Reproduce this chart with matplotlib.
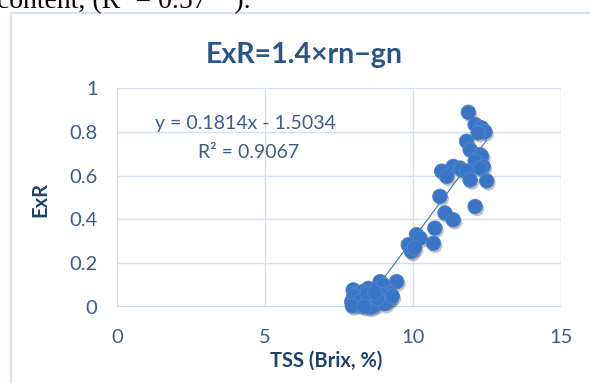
import numpy as np
import matplotlib.pyplot as plt
import matplotlib.patheffects as pe
from matplotlib.patches import Rectangle

plt.rcParams['font.family'] = ['Lato', 'DejaVu Sans']

# TSS (Brix, %) vs ExR
tss = [11.87, 12.10, 12.32, 12.43, 12.20, 11.81, 11.93, 12.26, 12.32, 12.10,
       12.37, 12.26, 11.36, 11.59, 11.64, 11.81, 10.97, 11.14, 11.93, 12.49,
       10.91, 12.10, 11.08, 11.36, 10.74, 10.12, 10.24, 10.69, 9.84, 9.95,
       10.05,
       9.45, 8.89, 7.98, 8.49, 8.77, 8.10, 8.32, 8.55, 8.89, 9.22,
       7.93, 8.20, 8.49, 8.72, 9.11, 8.15, 9.00, 9.22, 9.16, 8.05,
       8.40, 8.62, 8.95, 8.30, 8.00, 8.60, 9.05, 8.80, 8.25, 8.45,
       8.70, 9.30, 7.95, 8.35]
exr = [0.889, 0.833, 0.818, 0.800, 0.795, 0.757, 0.718, 0.696, 0.688, 0.665,
       0.642, 0.634, 0.642, 0.634, 0.627, 0.620, 0.620, 0.596, 0.580, 0.576,
       0.505, 0.459, 0.429, 0.398, 0.360, 0.330, 0.314, 0.291, 0.284, 0.253,
       0.270,
       0.116, 0.116, 0.078, 0.085, 0.078, 0.040, 0.047, 0.024, 0.032, 0.040,
       0.024, 0.009, 0.000, 0.009, 0.063, 0.063, 0.100, 0.063, 0.032, 0.010,
       0.020, 0.050, 0.055, 0.070, 0.050, 0.000, 0.015, 0.040, 0.030, 0.060,
       0.065, 0.050, 0.005, 0.002]

# linear trendline shown on the chart
slope, intercept = 0.1814, -1.5034

blue = '#3B74C2'
tick_col = '#3E5C85'
lab_col = '#1F426E'

W, H = 590, 383
fig = plt.figure(figsize=(W / 100, H / 100), dpi=100)

# cropped line of body text above the chart
fig.text(-0.005, 1 - 8 / H, 'content, (R² = 0.57**).', fontsize=20,
         family='Liberation Serif', color='black', va='baseline', ha='left')

# chart frame
fig.patches.append(Rectangle((11 / W, -0.1), 1.2, 1 - 13 / H + 0.1,
                             transform=fig.transFigure, fill=False,
                             edgecolor='#D6E2F1', linewidth=1.5))

ax = fig.add_axes([117 / W, 1 - 307 / H, 444 / W, 219 / H])

ax.set_xlim(0, 15)
ax.set_ylim(0, 1)
ax.set_xticks([0, 5, 10, 15])
ax.set_yticks([0, 0.2, 0.4, 0.6, 0.8, 1])
ax.set_yticklabels(['0', '0.2', '0.4', '0.6', '0.8', '1'])
ax.grid(True, color='#D4E0F0', linewidth=1)
ax.set_axisbelow(True)
for s in ax.spines.values():
    s.set_visible(False)
ax.axhline(0, color='#BCD0EA', linewidth=1.2, zorder=1)
ax.tick_params(length=0, colors=tick_col, labelsize=14.5)
ax.tick_params(axis='x', pad=16)
ax.tick_params(axis='y', pad=14)

xs = np.array([min(tss), max(tss)])
ax.plot(xs, slope * xs + intercept, color=blue, linewidth=0.8, zorder=2)

ax.scatter(tss, exr, s=110, color=blue, edgecolors='#4F86D0', linewidths=0.6,
           zorder=3, clip_on=False,
           path_effects=[pe.SimplePatchShadow(offset=(1.2, -1.8), shadow_rgbFace='#555555',
                                              alpha=0.35), pe.Normal()])

# trendline label
fig.text(155 / W, 1 - 123 / H, 'y = 0.1814x - 1.5034', ha='left', va='center',
         color=tick_col, fontsize=14)
fig.text(198 / W, 1 - 152 / H, 'R² = 0.9067', ha='left', va='center',
         color=tick_col, fontsize=14)

fig.text(304.5 / W, 1 - 63 / H, 'ExR=1.4×rn−gn', ha='center', va='baseline',
         fontsize=20.5, fontweight='bold', color='#2A5587')
fig.text(326.5 / W, 1 - 367 / H, 'TSS (Brix, %)', ha='center', va='baseline',
         fontsize=14.5, fontweight='bold', color=lab_col)
fig.text(40 / W, 1 - 199 / H, 'ExR', ha='center', va='center', rotation=90,
         fontsize=14.5, fontweight='bold', color=lab_col)

fig.savefig('out.png', dpi=100)
